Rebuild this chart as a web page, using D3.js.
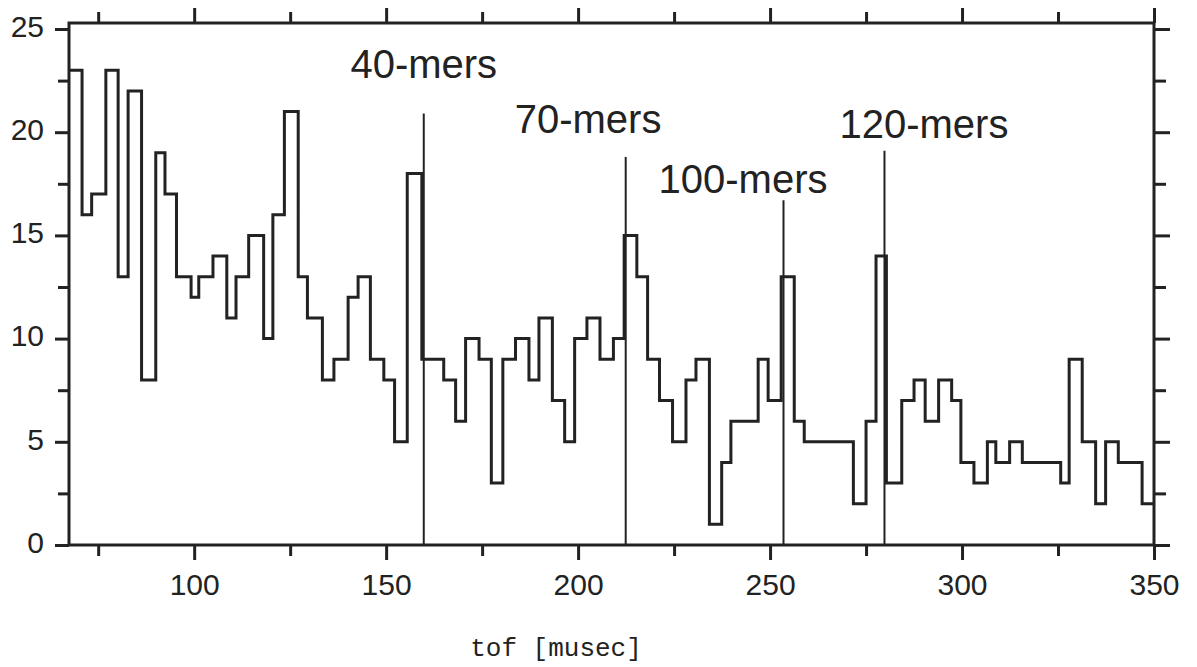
<!DOCTYPE html>
<html>
<head>
<meta charset="utf-8">
<script src="https://cdn.jsdelivr.net/npm/d3@7"></script>
<style>
    html, body { margin: 0; padding: 0; background: #fff; }
    #chart { width: 1197px; height: 667px; }
    .tick text { font-family: 'Liberation Sans', Arial, sans-serif; font-size: 30px; fill: #222; }
</style>
</head>
<body>
<div id="chart"></div>
<script>
// bin edges (tof, musec) and counts
const tofEdges = [
    67.4, 70.8, 73.3, 77.0, 80.2, 82.8, 86.3, 90.0, 92.4, 95.4,
    99.2, 101.2, 104.9, 108.5, 110.9, 114.2, 118.1, 120.5, 123.5, 127.1,
    129.5, 133.4, 136.4, 140.1, 142.7, 145.9, 149.4, 152.2, 155.5, 159.3,
    165.0, 168.1, 170.7, 174.2, 177.4, 180.4, 183.7, 187.2, 189.8, 193.3,
    196.5, 199.1, 202.3, 205.7, 209.2, 212.0, 215.3, 218.1, 221.2, 224.6,
    228.1, 230.7, 234.2, 237.4, 239.8, 246.9, 249.5, 252.9, 256.3, 258.9,
    271.7, 275.0, 277.6, 280.3, 284.3, 287.5, 290.4, 293.9, 297.3, 299.7,
    303.1, 306.6, 308.8, 312.4, 315.7, 325.7, 327.9, 331.3, 334.8, 337.4,
    340.7, 346.9, 350
];
const counts = [
    23, 16, 17, 23, 13, 22, 8, 19, 17, 13,
    12, 13, 14, 11, 13, 15, 10, 16, 21, 13,
    11, 8, 9, 12, 13, 9, 8, 5, 18, 9,
    8, 6, 10, 9, 3, 9, 10, 8, 11, 7,
    5, 10, 11, 9, 10, 15, 13, 9, 7, 5,
    8, 9, 1, 4, 6, 9, 7, 13, 6, 5,
    2, 6, 14, 3, 7, 8, 6, 8, 7, 4,
    3, 5, 4, 5, 4, 3, 9, 5, 2, 5,
    4, 2
];

// mass markers
const markerNames = ['40-mers', '70-mers', '100-mers', '120-mers'];
const markerTof = [159.8, 212.4, 253.5, 279.8];
const markerTop = [20.9, 18.8, 16.7, 19.1];

const xMajorTicks = [100, 150, 200, 250, 300, 350];
const xMinorTicks = [75, 125, 175, 225, 275, 325];
const yMajorTicks = [0, 5, 10, 15, 20, 25];
const yMinorTicks = [2.5, 7.5, 12.5, 17.5, 22.5];

const xTitle = 'tof [musec]';

// label placement relative to the marker line top (px)
const labelLayout = [
    { anchor: 'middle', dx: 0, dy: -36 },
    { anchor: 'start', dx: -111, dy: -24 },
    { anchor: 'start', dx: -125, dy: -7 },
    { anchor: 'start', dx: -45, dy: -13 }
];

const W = 1197;
const H = 667;
const box = { left: 69, right: 1154, top: 23, bottom: 545 };
const ink = '#222';

const svg = d3.select('#chart')
    .append('svg')
    .attr('width', W)
    .attr('height', H);

const x = d3.scaleLinear()
    .domain([tofEdges[0], 350])
    .range([box.left, box.right]);

const y = d3.scaleLinear()
    .domain([0, 25])
    .range([box.bottom, 29]);

// axes: majors with labels, minors without
const addAxis = (axisFn, scale, values, size, labels, tx, ty, pad) => {
    const axis = axisFn(scale)
        .tickValues(values)
        .tickSize(size)
        .tickSizeOuter(0)
        .tickPadding(pad || 3);
    if (!labels) axis.tickFormat(() => '');
    const g = svg.append('g')
        .attr('transform', `translate(${tx}, ${ty})`)
        .call(axis);
    g.select('.domain').remove();
    g.selectAll('.tick line')
        .attr('stroke', ink)
        .attr('stroke-width', 3);
    return g;
};

addAxis(d3.axisBottom, x, xMajorTicks, 15, true, 0, box.bottom, 14);
addAxis(d3.axisBottom, x, xMinorTicks, 11, false, 0, box.bottom);
addAxis(d3.axisTop, x, xMajorTicks, 15, false, 0, box.top);
addAxis(d3.axisTop, x, xMinorTicks, 11, false, 0, box.top);
const yl = addAxis(d3.axisLeft, y, yMajorTicks, 14, true, box.left, 0, 11);
yl.selectAll('.tick text').attr('dy', '0.24em');
addAxis(d3.axisLeft, y, yMinorTicks, 11, false, box.left, 0);
addAxis(d3.axisRight, y, yMajorTicks, 16, false, box.right, 0);
addAxis(d3.axisRight, y, yMinorTicks, 12, false, box.right, 0);

// frame
svg.append('rect')
    .attr('x', box.left)
    .attr('y', box.top)
    .attr('width', box.right - box.left)
    .attr('height', box.bottom - box.top)
    .attr('fill', 'none')
    .attr('stroke', ink)
    .attr('stroke-width', 3);

// histogram as a step line
const steps = counts.map((c, i) => [tofEdges[i], c]);
steps.push([tofEdges[tofEdges.length - 1], counts[counts.length - 1]]);

const line = d3.line()
    .x((d) => x(d[0]))
    .y((d) => y(d[1]))
    .curve(d3.curveStepAfter);

svg.append('path')
    .datum(steps)
    .attr('d', line)
    .attr('fill', 'none')
    .attr('stroke', ink)
    .attr('stroke-width', 3)
    .attr('stroke-linejoin', 'miter');

// marker lines and labels
const markers = markerNames.map((name, i) => ({
    name: name,
    tof: markerTof[i],
    top: markerTop[i],
    layout: labelLayout[i]
}));

svg.selectAll('line.marker')
    .data(markers)
    .enter()
    .append('line')
    .attr('class', 'marker')
    .attr('x1', (d) => x(d.tof))
    .attr('x2', (d) => x(d.tof))
    .attr('y1', (d) => y(d.top))
    .attr('y2', y(0))
    .attr('stroke', ink)
    .attr('stroke-width', 2);

svg.selectAll('text.marker-label')
    .data(markers)
    .enter()
    .append('text')
    .attr('class', 'marker-label')
    .attr('x', (d) => x(d.tof) + d.layout.dx)
    .attr('y', (d) => y(d.top) + d.layout.dy)
    .attr('text-anchor', (d) => d.layout.anchor)
    .attr('font-family', "'Liberation Sans', Arial, sans-serif")
    .attr('font-size', 40)
    .attr('fill', ink)
    .text((d) => d.name);

// x title
svg.append('text')
    .attr('x', 556)
    .attr('y', 656)
    .attr('text-anchor', 'middle')
    .attr('font-family', "'Liberation Mono', 'DejaVu Sans Mono', monospace")
    .attr('font-size', 26)
    .attr('fill', ink)
    .text(xTitle);
</script>
</body>
</html>
